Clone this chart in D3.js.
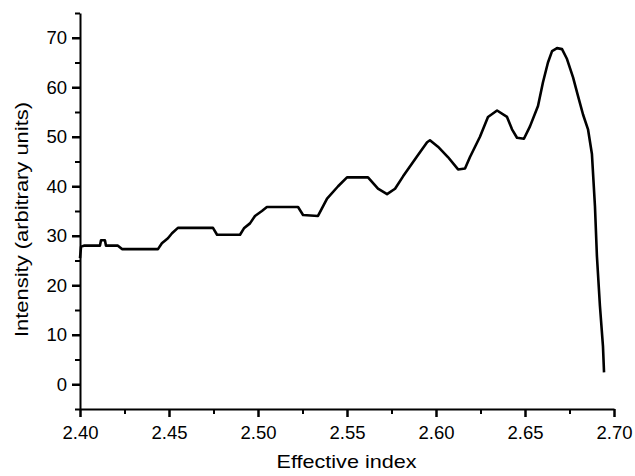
<!DOCTYPE html>
<html>
<head>
<meta charset="utf-8">
<script src="https://cdn.jsdelivr.net/npm/d3@7"></script>
<style>
  body { margin: 0; background: #fff; overflow: hidden; }
  svg { display: block; }
  svg text { font-family: "Liberation Sans", Arial, sans-serif; fill: #000; }
</style>
</head>
<body>
<svg id="chart"></svg>
<script>
// effective index vs intensity
const effIndex = [2.400, 2.4006, 2.4022, 2.4112, 2.4118, 2.414, 2.4146, 2.4213, 2.4236, 2.4438,
  2.446, 2.4494, 2.4517, 2.455, 2.4747, 2.477, 2.4899, 2.4921, 2.4955, 2.4983,
  2.5022, 2.505, 2.5225, 2.5253, 2.5337, 2.5388, 2.545, 2.55, 2.5618, 2.5674,
  2.5725, 2.577, 2.5815, 2.5893, 2.595, 2.5966, 2.6011, 2.6067, 2.6124, 2.6163,
  2.6191, 2.6247, 2.6292, 2.6343, 2.6399, 2.6427, 2.6455, 2.6494, 2.6528, 2.6573,
  2.6601, 2.6629, 2.6652, 2.668, 2.6708, 2.6736, 2.677, 2.6798, 2.6826, 2.6854,
  2.6876, 2.6893, 2.6904, 2.6921, 2.6938, 2.6944];
const intensity = [25.5, 27.8, 28, 28, 29.1, 29.1, 28, 28, 27.3, 27.3,
  28.5, 29.5, 30.5, 31.6, 31.6, 30.2, 30.2, 31.5, 32.5, 34,
  35, 35.8, 35.8, 34.2, 34, 37.5, 40, 41.8, 41.8, 39.5,
  38.4, 39.5, 42, 46, 48.9, 49.3, 48, 45.9, 43.4, 43.6,
  45.9, 50, 54, 55.3, 54, 51.5, 49.8, 49.6, 52.1, 56.2,
  61, 65, 67.3, 67.9, 67.7, 65.7, 62, 58.2, 54.5, 51.5,
  46.5, 36, 25.9, 15.8, 7.7, 2.4];

const xTicks = [2.40, 2.45, 2.50, 2.55, 2.60, 2.65, 2.70];
const xMinor = [2.425, 2.475, 2.525, 2.575, 2.625, 2.675];
const yTicks = [0, 10, 20, 30, 40, 50, 60, 70];
const yMinor = [-5, 5, 15, 25, 35, 45, 55, 65, 75];

const data = effIndex.map((x, i) => ({ x: x, y: intensity[i] }));

const W = 635, H = 476;
const margin = { top: 13, right: 21, bottom: 67, left: 80 };
const width = W - margin.left - margin.right;
const height = H - margin.top - margin.bottom;
const fontSize = 18.5;

const svg = d3.select('#chart').attr('width', W).attr('height', H);
const chart = svg.append('g').attr('transform', `translate(${margin.left},${margin.top})`);

const xScale = d3.scaleLinear().domain([2.40, 2.70]).range([0, width]);
const yScale = d3.scaleLinear().domain([-5, 75]).range([height, 0]);

// minor ticks first, then major ones on top
chart.append('g')
  .attr('transform', `translate(0,${height})`)
  .call(d3.axisBottom(xScale).tickValues(xMinor).tickSize(5).tickFormat(''))
  .call(g => g.select('.domain').remove())
  .call(g => g.selectAll('line').attr('stroke-width', 2));

chart.append('g')
  .call(d3.axisLeft(yScale).tickValues(yMinor).tickSize(5).tickFormat(''))
  .call(g => g.select('.domain').remove())
  .call(g => g.selectAll('line').attr('stroke-width', 2));

const xAxisG = chart.append('g')
  .attr('transform', `translate(0,${height})`)
  .call(d3.axisBottom(xScale).tickValues(xTicks).tickSize(8).tickSizeOuter(0).tickPadding(9)
    .tickFormat(d3.format('.2f')));
xAxisG.select('.domain').attr('stroke-width', 2);
xAxisG.selectAll('.tick line').attr('stroke-width', 2.5);
xAxisG.selectAll('text').attr('font-size', fontSize);

const yAxisG = chart.append('g')
  .call(d3.axisLeft(yScale).tickValues(yTicks).tickSize(8).tickSizeOuter(0).tickPadding(5));
yAxisG.select('.domain').attr('stroke-width', 2);
yAxisG.selectAll('.tick line').attr('stroke-width', 2.5);
yAxisG.selectAll('text').attr('font-size', fontSize);

const line = d3.line()
  .x(d => xScale(d.x))
  .y(d => yScale(d.y));

chart.append('path')
  .datum(data)
  .attr('fill', 'none')
  .attr('stroke', '#000')
  .attr('stroke-width', 2.6)
  .attr('stroke-linejoin', 'round')
  .attr('d', line);

svg.append('text')
  .attr('x', 346.5)
  .attr('y', 468)
  .attr('text-anchor', 'middle')
  .attr('font-size', 18.5)
  .attr('textLength', 140)
  .attr('lengthAdjust', 'spacingAndGlyphs')
  .text('Effective index');

svg.append('text')
  .attr('transform', 'translate(28,219.5) rotate(-90)')
  .attr('text-anchor', 'middle')
  .attr('font-size', 19)
  .attr('textLength', 235)
  .attr('lengthAdjust', 'spacingAndGlyphs')
  .text('Intensity (arbitrary units)');
</script>
</body>
</html>
